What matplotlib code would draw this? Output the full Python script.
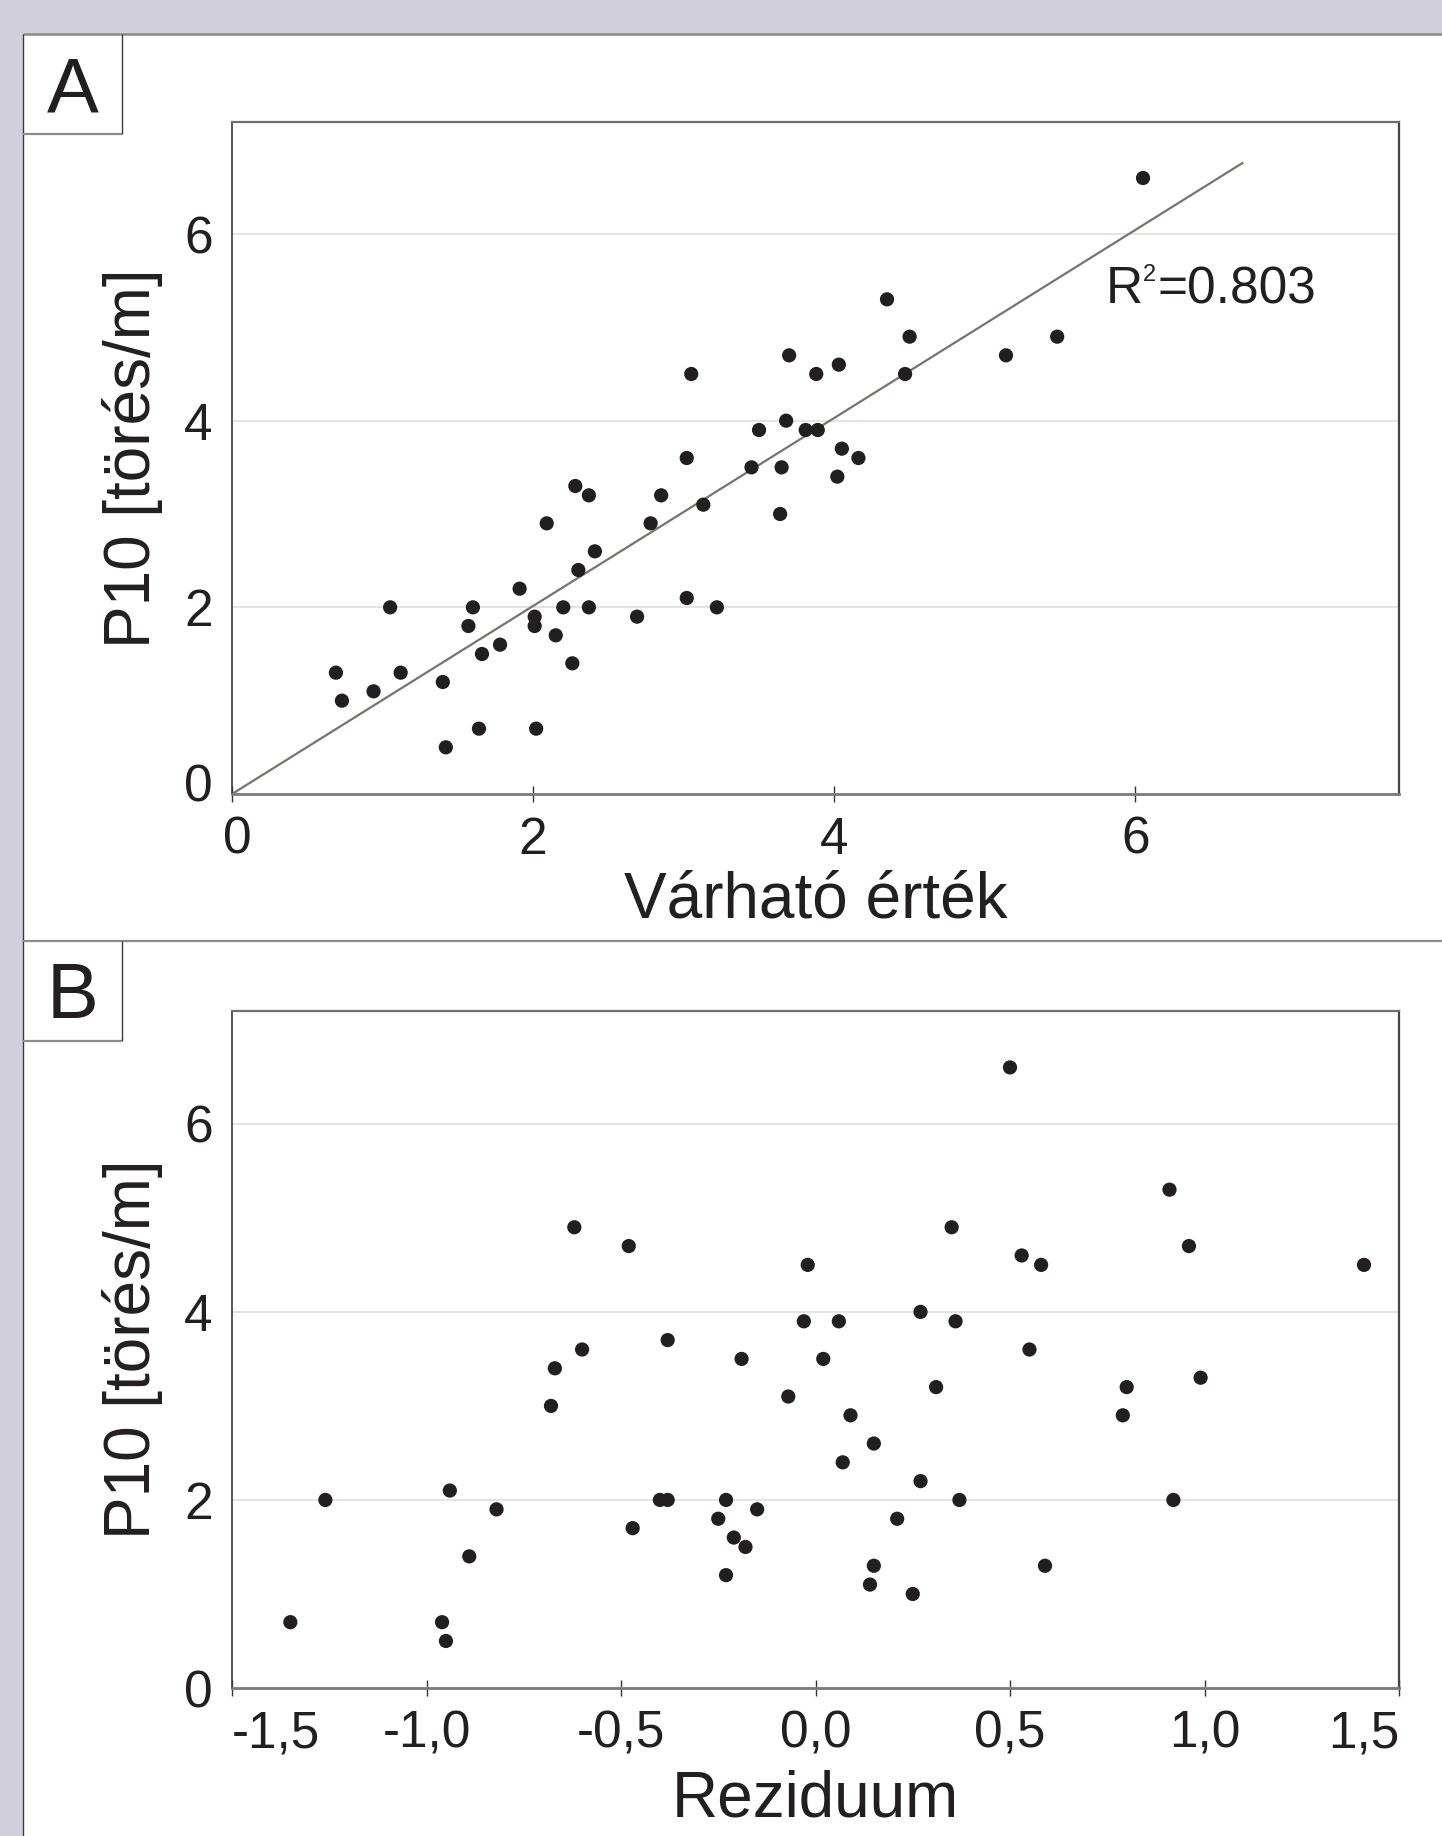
import matplotlib
matplotlib.use('Agg')
import matplotlib.pyplot as plt
from matplotlib.patches import Rectangle
from matplotlib.lines import Line2D
from matplotlib.transforms import offset_copy

plt.rcParams['font.family'] = ['Liberation Sans', 'DejaVu Sans']

# ---------------- data ----------------
# Panel A: expected value (x) vs P10 (y)
varhato = [6.05, 4.35, 4.50, 5.48, 5.14, 4.47, 3.70, 4.03, 3.88, 3.05,
           3.68, 3.50, 3.81, 3.89, 4.05, 4.16, 3.02, 3.45, 3.65, 4.02,
           3.64, 3.13, 2.85, 2.78, 2.28, 2.37, 2.09, 2.41, 2.30, 1.91,
           2.20, 2.37, 3.02, 3.22, 2.69, 2.01, 2.01, 2.15, 1.57, 1.60,
           1.78, 1.66, 1.05, 1.12, 0.69, 0.73, 0.94, 1.40, 2.26, 1.42,
           1.64, 2.02]
p10_a = [6.6, 5.3, 4.9, 4.9, 4.7, 4.5, 4.7, 4.6, 4.5, 4.5,
         4.0, 3.9, 3.9, 3.9, 3.7, 3.6, 3.6, 3.5, 3.5, 3.4,
         3.0, 3.1, 3.2, 2.9, 3.3, 3.2, 2.9, 2.6, 2.4, 2.2,
         2.0, 2.0, 2.1, 2.0, 1.9, 1.9, 1.8, 1.7, 1.8, 2.0,
         1.6, 1.5, 2.0, 1.3, 1.3, 1.0, 1.1, 1.2, 1.4, 0.5,
         0.7, 0.7]
trend_x = [0.0, 6.71]
trend_y = [0.0, 6.76]
r2_value = '0.803'

# Panel B: residual (x) vs P10 (y)
reziduum = [-0.62, -0.48, -0.02, -0.03, 0.06, -0.38, -0.60, -0.67, -0.19, 0.02,
            -0.68, -0.07, 0.07, -1.26, -0.94, -0.82, -0.89, -1.35, -0.96, -0.95,
            -0.47, -0.40, -0.38, -0.23, -0.25, -0.21, -0.18, -0.23, -0.15, 0.50,
            0.91, 0.35, 0.96, 0.53, 0.58, 1.41, 0.27, 0.36, 0.55, 0.31,
            0.99, 0.80, 0.79, 0.09, 0.15, 0.27, 0.37, 0.92, 0.21, 0.15,
            0.59, 0.14, 0.25]
p10_b = [4.9, 4.7, 4.5, 3.9, 3.9, 3.7, 3.6, 3.4, 3.5, 3.5,
         3.0, 3.1, 2.4, 2.0, 2.1, 1.9, 1.4, 0.7, 0.7, 0.5,
         1.7, 2.0, 2.0, 2.0, 1.8, 1.6, 1.5, 1.2, 1.9, 6.6,
         5.3, 4.9, 4.7, 4.6, 4.5, 4.5, 4.0, 3.9, 3.6, 3.2,
         3.3, 3.2, 2.9, 2.9, 2.6, 2.2, 2.0, 2.0, 1.8, 1.3,
         1.3, 1.1, 1.0]

yticks = [0, 2, 4, 6]
xticks_a = [0, 2, 4, 6]
xticks_b = [-1.5, -1.0, -0.5, 0.0, 0.5, 1.0, 1.5]
xticklabels_b = ['-1,5', '-1,0', '-0,5', '0,0', '0,5', '1,0', '1,5']
ylabel = 'P10 [törés/m]'
xlabel_a = 'Várható érték'
xlabel_b = 'Reziduum'

# ---------------- figure ----------------
W, H = 1442, 1836
TXT = '#231f20'
fig = plt.figure(figsize=(W / 100, H / 100), dpi=100)
fig.patch.set_facecolor('#d1cfdb')


def fx(px):
    return px / W


def fy(py):
    return 1 - py / H


fig.patches.append(Rectangle((fx(23), 0), 1 - fx(23), fy(34), transform=fig.transFigure,
                             facecolor='white', edgecolor='none', zorder=-1))


def fline(x0, y0, x1, y1, color, lw):
    fig.lines.append(Line2D([fx(x0), fx(x1)], [fy(y0), fy(y1)], transform=fig.transFigure,
                            color=color, lw=lw, zorder=5, solid_capstyle='butt'))


fline(23, 34, W, 34, '#8a8a8a', 1.8)      # top border
fline(23, 34, 23, H, '#3a3a3a', 1.0)      # left panel edge
fline(23, 941, W, 941, '#8a8a8a', 1.6)    # divider
for top, lab, base in [(34, 'A', 112), (941, 'B', 1018)]:
    fline(122, top, 122, top + 100, '#3a3a3a', 1.0)
    fline(23, top + 100, 122, top + 100, '#8a8a8a', 1.6)
    fig.text(fx(73), fy(base), lab, ha='center', va='baseline', fontsize=56, color=TXT)


def style(ax):
    ax.set_ylim(0, 7.2)
    ax.set_yticks(yticks)
    ax.set_yticklabels([str(t) for t in yticks])
    ax.yaxis.grid(True, color='#e2e2e2', lw=1.3)
    ax.set_axisbelow(True)
    ax.tick_params(axis='y', length=0, pad=14, labelsize=37, labelcolor=TXT)
    ax.tick_params(axis='x', direction='inout', length=11.5, width=1.0, color='#333333',
                   pad=10, labelsize=37, labelcolor=TXT)
    ax.spines['top'].set_color('#6e6e6e')
    ax.spines['top'].set_linewidth(1.6)
    ax.spines['right'].set_color('#444444')
    ax.spines['right'].set_linewidth(1.6)
    ax.spines['left'].set_color('#3a3a3a')
    ax.spines['left'].set_linewidth(1.2)
    ax.spines['bottom'].set_color('#7a7a7a')
    ax.spines['bottom'].set_linewidth(2.0)
    ax.set_ylabel(ylabel, fontsize=46, color=TXT)
    ax.yaxis.set_label_coords(-0.059, 0.5)


axA = fig.add_axes([fx(232), fy(794), (1399 - 232) / W, (794 - 122) / H])
style(axA)
axA.set_xlim(0, 7.75)
axA.set_xticks(xticks_a)
axA.set_xticklabels([str(t) for t in xticks_a])
axA.plot(trend_x, trend_y, color='#7b726b', lw=1.6, zorder=2)
axA.scatter(varhato, p10_a, s=105, color=TXT, edgecolors='none', zorder=3)

# "R²=0.803" built from pieces so the superscript stays small
tR = axA.text(5.80, 5.26, 'R', fontsize=37, color=TXT, ha='left', va='baseline')
t2 = axA.annotate('2', xy=(1, 1), xycoords=tR, xytext=(0.5, 1), textcoords='offset points',
                  fontsize=17, color=TXT, ha='left', va='top')
axA.annotate('=' + r2_value, xy=(1, 0), xycoords=(t2, tR), xytext=(0.5, 0),
             textcoords='offset points', fontsize=37, color=TXT, ha='left', va='bottom')

axA.set_xlabel(xlabel_a, fontsize=46, color=TXT)
axA.xaxis.set_label_coords(0.5, -0.1845)
axA.xaxis.label.set_va('baseline')
# nudge the corner "0" labels as in the original
fig.canvas.draw()
y0lab = axA.get_yticklabels()[0]
y0lab.set_transform(offset_copy(y0lab.get_transform(), fig=fig, x=0, y=12, units='dots'))
x0lab = axA.get_xticklabels()[0]
x0lab.set_transform(offset_copy(x0lab.get_transform(), fig=fig, x=5, y=0, units='dots'))

axB = fig.add_axes([fx(232), fy(1688), (1399 - 232) / W, (1688 - 1011) / H])
style(axB)
axB.set_xlim(-1.5, 1.5)
axB.set_xticks(xticks_b)
axB.set_xticklabels(xticklabels_b)
tl = axB.get_xticklabels()
tl[0].set_ha('left')
tl[-1].set_ha('right')
axB.scatter(reziduum, p10_b, s=105, color=TXT, edgecolors='none', zorder=3)
axB.set_xlabel(xlabel_b, fontsize=46, color=TXT)
axB.xaxis.set_label_coords(0.5, -0.1905)
axB.xaxis.label.set_va('baseline')

fig.savefig('out.png', dpi=100, facecolor=fig.get_facecolor())
